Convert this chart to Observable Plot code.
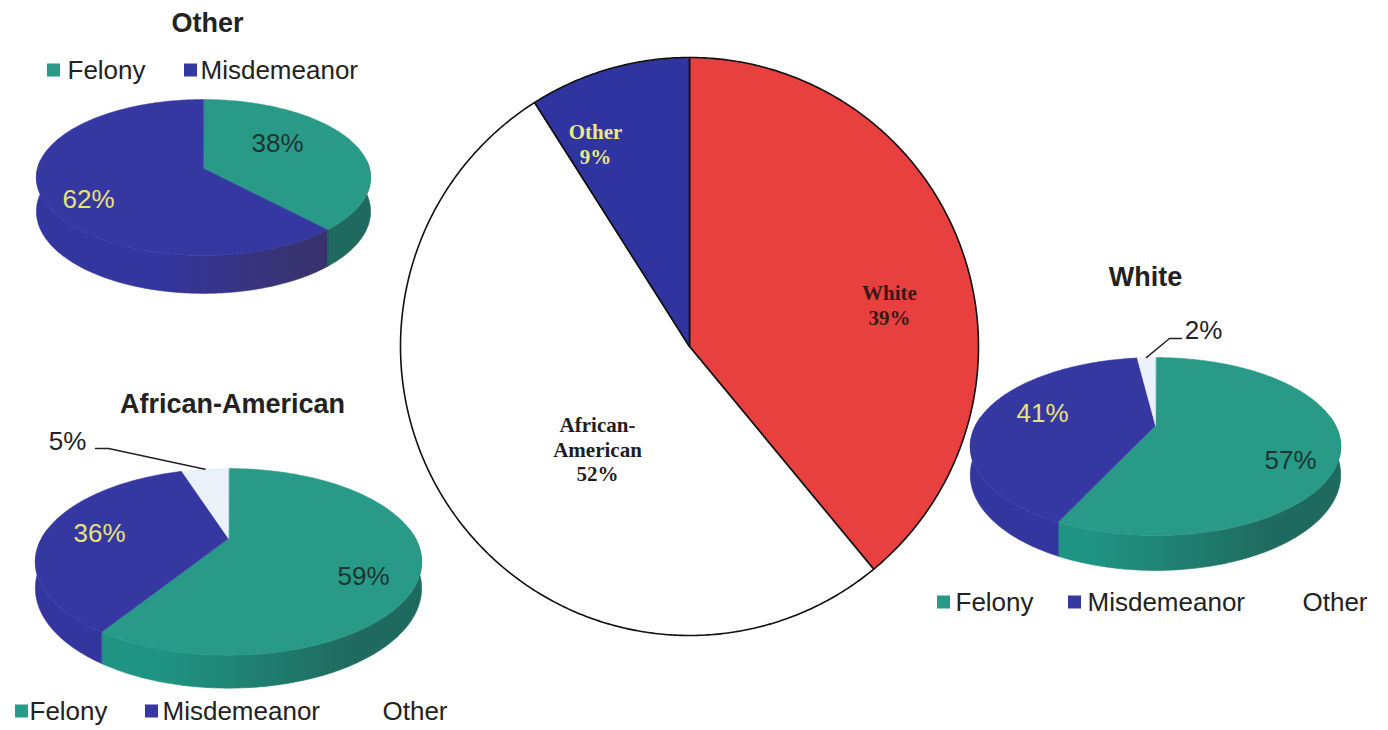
<!DOCTYPE html>
<html><head><meta charset="utf-8">
<script src="https://cdn.jsdelivr.net/npm/d3@7"></script>
<script src="https://cdn.jsdelivr.net/npm/@observablehq/plot@0.6"></script>
<style>html,body{margin:0;padding:0;background:#fff;overflow:hidden;}</style>
</head><body><div id="chart"></div>
<script>
// ---------------- data ----------------
const centralGroups = ["White", "African-American", "Other"];
const centralShares = [39, 52, 9];
const centralLabelLines = [["White", "39%"], ["African-", "American", "52%"], ["Other", "9%"]];
const offenseTypes = ["Felony", "Misdemeanor", "Other"];
const otherGroupShares = [38, 62, 0];
const africanAmericanShares = [59, 36, 5];
const whiteShares = [57, 41, 2];
const pieTitles = ["Other", "African-American", "White"];
const legendTypes = [["Felony", "Misdemeanor"], ["Felony", "Misdemeanor", "Other"], ["Felony", "Misdemeanor", "Other"]];

// ---------------- styles & layout ----------------
const W = 1388, H = 730, rad = Math.PI / 180;
const offenseColors = {Felony: "#2a9a88", Misdemeanor: "#3638a2", Other: "#eaf1f9"};
const wallColors = {Felony: ["#1f6a5e", "#1f9482"], Misdemeanor: ["#38326f", "#3436a0"], Other: ["#c4ccd6", "#e2e9f2"]};
const legendSwatch = {Felony: "#2a9a88", Misdemeanor: "#3638a2", Other: "#ffffff"};
const labelColors = {Felony: "#1a352f", Misdemeanor: "#e6e27c", Other: "#222222"};
const centralColors = {"White": "#e8403e", "African-American": "#ffffff", "Other": "#3034a0"};
const centralTextColors = {"White": "#3a1616", "African-American": "#1e1e1e", "Other": "#ece884"};
const central = {cx: 689, cy: 346, r: 289,
  labelAt: {"White": [889, 293], "African-American": [597, 425], "Other": [595, 132]}, lineGap: 24.5};

const pies3d = [
  {shares: otherGroupShares, cx: 203, cy: 168, a: 166, b: 69, k: 0.115, d: 33.6,
   titleAt: [207, 23], legendY: 70, swatchX: [47, 184], textX: [67, 200],
   labelAt: {Felony: [277, 143], Misdemeanor: [88, 199]}},
  {shares: africanAmericanShares, cx: 228, cy: 538, a: 187, b: 70, k: 0.25, d: 24.75,
   titleAt: [232, 404], legendY: 711, swatchX: [15, 145, 367], textX: [29, 162, 382],
   labelAt: {Felony: [363, 576], Misdemeanor: [99, 533], Other: [67, 441]},
   leader: [[95, 448], [108, 448]]},
  {shares: whiteShares, cx: 1155, cy: 425, a: 180, b: 68, k: 0.236, d: 26.7,
   titleAt: [1145, 277], legendY: 602, swatchX: [937, 1068, 1287], textX: [955, 1087, 1302],
   labelAt: {Felony: [1290, 460], Misdemeanor: [1042, 413], Other: [1203, 330]},
   leader: [[1181, 338], [1169, 338]]}
];
const shadeDarkAngle = 148, shadeLightAngle = 196;

// ---------------- geometry ----------------
function arcAngles(a0, a1, step) {
  const n = Math.max(2, Math.ceil((a1 - a0) / step) + 1);
  return d3.range(n).map(i => a0 + (a1 - a0) * i / (n - 1));
}
function proj(p, theta, drop) {
  const X = Math.sin(theta * rad), Z = Math.cos(theta * rad);
  const s = 1 / (1 + p.k * Z);
  return [p.cx + p.a * X * s, p.cy - p.b * (1 + p.k) * Z * s + drop * p.d * s];
}

// central pie
const centralRows = [];
{
  const total = d3.sum(centralShares);
  let acc = 0;
  centralGroups.forEach((g, i) => {
    const a0 = acc / total * 360; acc += centralShares[i]; const a1 = acc / total * 360;
    centralRows.push({id: "c" + i, x: central.cx, y: central.cy, c: centralColors[g]});
    for (const t of arcAngles(a0, a1, 0.5))
      centralRows.push({id: "c" + i, x: central.cx + central.r * Math.sin(t * rad), y: central.cy - central.r * Math.cos(t * rad), c: centralColors[g]});
  });
}
const centralTextRows = [];
centralGroups.forEach((g, i) => {
  const lines = centralLabelLines[i], [lx, ly] = central.labelAt[g];
  lines.forEach((txt, j) => centralTextRows.push({x: lx, y: ly + j * central.lineGap, text: txt, c: centralTextColors[g]}));
});

// 3D pies
const wallMarks = [], gradients = [];
const topRows = [], pieLabelRows = [], leaderRows = [], titleRows = [], swatchRows = [], legendTextRows = [];
pies3d.forEach((p, pi) => {
  const total = d3.sum(p.shares);
  let acc = 0;
  const slices = offenseTypes.map((t, i) => {
    const a0 = acc / total * 360; acc += p.shares[i];
    return {type: t, share: p.shares[i], a0, a1: acc / total * 360};
  }).filter(s => s.share > 0);

  slices.forEach(s => {
    const lo = Math.max(s.a0, 84), hi = Math.min(s.a1, 276);
    if (hi > lo) {
      const gid = `wall${pi}${s.type}`;
      gradients.push({id: gid, x1: proj(p, shadeDarkAngle, 0)[0], x2: proj(p, shadeLightAngle, 0)[0], c: wallColors[s.type]});
      const angs = arcAngles(lo, hi, 1);
      const pts = [...angs.map(t => proj(p, t, 0)), ...angs.slice().reverse().map(t => proj(p, t, 1))];
      wallMarks.push(Plot.line(pts.map(([x, y]) => ({x, y})), {x: "x", y: "y", fill: `url(#${gid})`, stroke: `url(#${gid})`, strokeWidth: 0.6, curve: "linear-closed"}));
    }
  });

  slices.forEach(s => {
    const id = `t${pi}-${s.type}`, c = offenseColors[s.type];
    topRows.push({id, x: p.cx, y: p.cy, c});
    for (const t of arcAngles(s.a0, s.a1, 1)) { const [x, y] = proj(p, t, 0); topRows.push({id, x, y, c}); }
    const [lx, ly] = p.labelAt[s.type];
    pieLabelRows.push({x: lx, y: ly, text: `${s.share}%`, c: labelColors[s.type]});
    if (s.type === "Other" && p.leader) {
      const rim = proj(p, (s.a0 + s.a1) / 2, 0);
      [...p.leader, rim].forEach(([x, y]) => leaderRows.push({id: "l" + pi, x, y}));
    }
  });

  titleRows.push({x: p.titleAt[0], y: p.titleAt[1], text: pieTitles[pi]});
  legendTypes[pi].forEach((t, j) => {
    swatchRows.push({x1: p.swatchX[j], x2: p.swatchX[j] + 13, y1: p.legendY - 6.5, y2: p.legendY + 6.5, c: legendSwatch[t]});
    legendTextRows.push({x: p.textX[j], y: p.legendY, text: t});
  });
});

// ---------------- plot ----------------
const chart = Plot.plot({
  width: W, height: H, margin: 0,
  x: {domain: [0, W], range: [0, W], axis: null},
  y: {domain: [0, H], range: [0, H], axis: null},
  color: {type: "identity"},
  style: {background: "#ffffff"},
  marks: [
    Plot.line(centralRows, {x: "x", y: "y", z: "id", fill: "c", stroke: "#111", strokeWidth: 1.6, curve: "linear-closed"}),
    Plot.text(centralTextRows, {x: "x", y: "y", text: "text", fill: "c", fontSize: 21, fontWeight: "bold", fontFamily: "Liberation Serif"}),
    ...wallMarks,
    Plot.line(topRows, {x: "x", y: "y", z: "id", fill: "c", stroke: "c", strokeWidth: 0.5, curve: "linear-closed"}),
    Plot.text(pieLabelRows, {x: "x", y: "y", text: "text", fill: "c", fontSize: 26, fontFamily: "Liberation Sans"}),
    Plot.line(leaderRows, {x: "x", y: "y", z: "id", stroke: "#222", strokeWidth: 1.4}),
    Plot.text(titleRows, {x: "x", y: "y", text: "text", fill: "#222", fontSize: 27, fontWeight: "bold", fontFamily: "Liberation Sans"}),
    Plot.rect(swatchRows, {x1: "x1", x2: "x2", y1: "y1", y2: "y2", fill: "c"}),
    Plot.text(legendTextRows, {x: "x", y: "y", text: "text", textAnchor: "start", fill: "#222", fontSize: 26, fontFamily: "Liberation Sans"})
  ]
});

// gradient definitions for the shaded side walls
const defs = d3.select(chart).insert("defs", ":first-child");
gradients.forEach(g => {
  const lg = defs.append("linearGradient").attr("id", g.id).attr("gradientUnits", "userSpaceOnUse")
    .attr("x1", g.x1).attr("y1", 0).attr("x2", g.x2).attr("y2", 0);
  lg.append("stop").attr("offset", 0).attr("stop-color", g.c[0]);
  lg.append("stop").attr("offset", 1).attr("stop-color", g.c[1]);
});
document.getElementById("chart").appendChild(chart);
</script>
</body></html>
